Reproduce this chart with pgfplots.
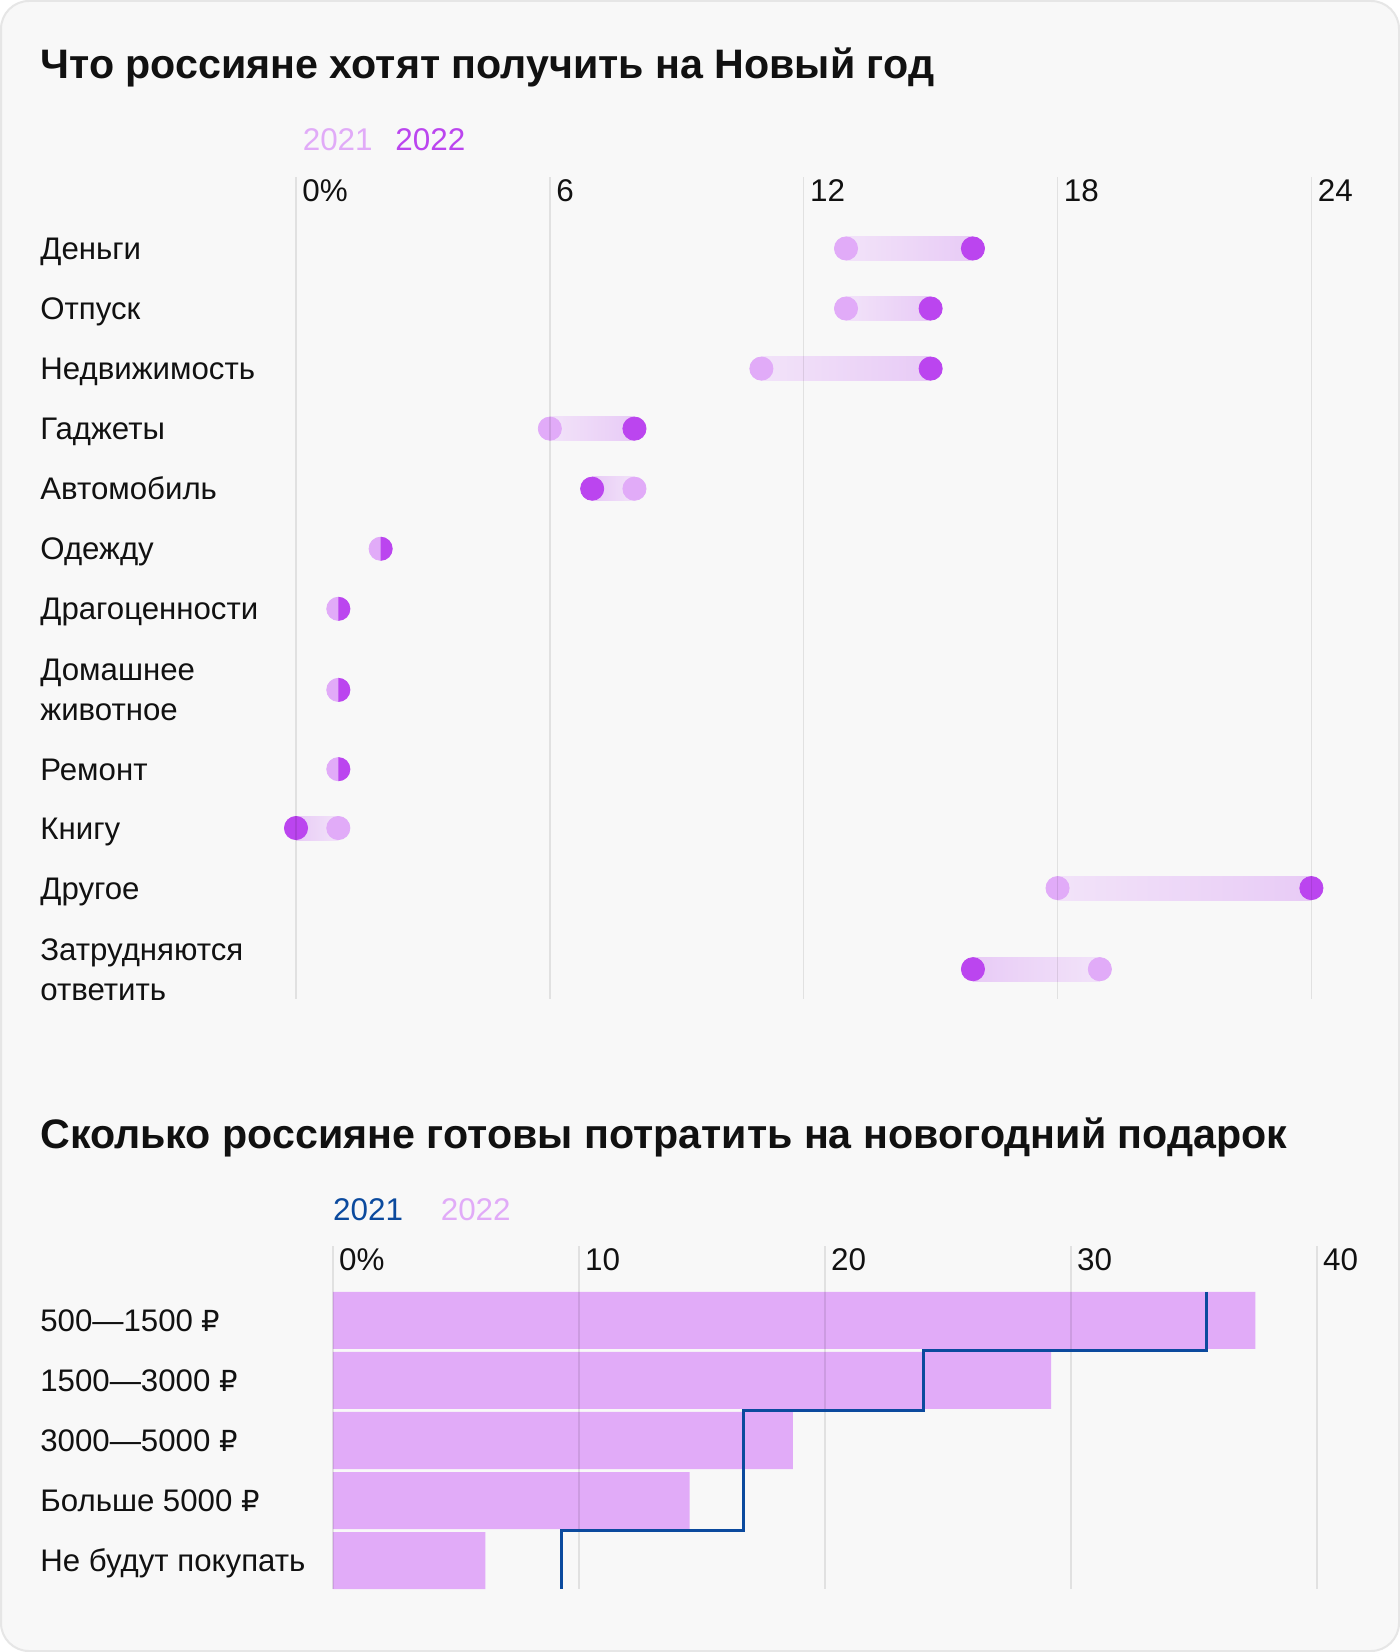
\documentclass[border=0pt]{standalone}
\usepackage{pgfplots}
\pgfplotsset{compat=1.18}
\usepackage{fontspec}
\setmainfont{Liberation Sans}
\newfontfamily\rubfont{DejaVu Sans}
\newcommand{\rub}{{\rubfont\fontsize{14.5}{18}\selectfont ₽}}

\definecolor{bg}{HTML}{F8F8F8}
\definecolor{cardline}{HTML}{E6E6E6}
\definecolor{ca}{HTML}{E1ABF8}
\definecolor{cb}{HTML}{BB45EF}
\definecolor{ga}{HTML}{F2E3F9}
\definecolor{gb}{HTML}{E8CBF6}
\definecolor{navy}{HTML}{0B4A9E}
\definecolor{ink}{HTML}{111111}

% right half of a filled circle
\pgfdeclareplotmark{halfright}{%
  \pgfpathmoveto{\pgfqpoint{0pt}{\pgfplotmarksize}}%
  \pgfpatharc{90}{-90}{\pgfplotmarksize}%
  \pgfpathclose
  \pgfusepathqfill}

\pgfplotsset{
  card/.style={
    scale only axis, anchor=north west, clip=false,
    set layers=axis on top,
    axis line style={draw=none}, major tick length=0,
    y dir=reverse,
    xticklabel pos=upper,
    xticklabel style={anchor=north west, inner sep=0pt, xshift=3pt, yshift=-1pt,
      font=\fontsize{15.7}{18}\selectfont, text=ink},
    yticklabel style={anchor=west, align=left, inner sep=0pt, yshift=-1.5pt,
      font=\fontsize{15.6}{20}\selectfont, text=ink},
    xmajorgrids, grid style={draw=black, draw opacity=0.09, line width=0.75pt},
  },
}

\begin{document}
\begin{tikzpicture}[x=1pt,y=1pt]
\fill[white] (0,0) rectangle (700,-826);
\filldraw[fill=bg, draw=cardline, line width=1pt, rounded corners=14pt] (0.5,-0.5) rectangle (699.5,-825.5);

\node[anchor=base west, inner sep=0, text=ink, font=\bfseries\fontsize{20.6}{26}\selectfont] at (20,-39.5) {Что россияне хотят получить на Новый год};
\node[anchor=base west, inner sep=0, text=ca, font=\fontsize{15.7}{18}\selectfont] at (151.2,-75.3) {2021};
\node[anchor=base west, inner sep=0, text=cb, font=\fontsize{15.7}{18}\selectfont] at (197.5,-75.3) {2022};

\begin{axis}[card,
  at={(148pt,-88.5pt)}, width=507.7pt, height=410.8pt,
  xmin=0, xmax=24, ymin=-1.19, ymax=12.49,
  xtick={0,6,12,18,24}, xticklabels={0\%,6,12,18,24},
  ytick={0,1,2,3,4,5,6,7.35,8.67,9.65,10.65,12},
  yticklabels={\strut Деньги,\strut Отпуск,\strut Недвижимость,\strut Гаджеты,\strut Автомобиль,
    \strut Одежду,\strut Драгоценности,{\strut Домашнее\\животное\strut},\strut Ремонт,\strut Книгу,
    \strut Другое,{\strut Затрудняются\\ответить\strut}},
  yticklabel style={xshift=-128pt},
]
% connecting bars, darker towards 2022
\addplot[draw=none, left color=ga, right color=gb] coordinates {(13,-0.2) (16,-0.2) (16,0.2) (13,0.2)} -- cycle;
\addplot[draw=none, left color=ga, right color=gb] coordinates {(13,0.8) (15,0.8) (15,1.2) (13,1.2)} -- cycle;
\addplot[draw=none, left color=ga, right color=gb] coordinates {(11,1.8) (15,1.8) (15,2.2) (11,2.2)} -- cycle;
\addplot[draw=none, left color=ga, right color=gb] coordinates {(6,2.8) (8,2.8) (8,3.2) (6,3.2)} -- cycle;
\addplot[draw=none, left color=gb, right color=ga] coordinates {(7,3.8) (8,3.8) (8,4.2) (7,4.2)} -- cycle;
\addplot[draw=none, left color=gb, right color=ga] coordinates {(0,9.45) (1,9.45) (1,9.85) (0,9.85)} -- cycle;
\addplot[draw=none, left color=ga, right color=gb] coordinates {(18,10.45) (24,10.45) (24,10.85) (18,10.85)} -- cycle;
\addplot[draw=none, left color=gb, right color=ga] coordinates {(16,11.8) (19,11.8) (19,12.2) (16,12.2)} -- cycle;

% 2021
\addplot[only marks, mark=*, mark size=5.8pt, color=ca, on layer=axis foreground] coordinates {
  (13,0) (13,1) (11,2) (6,3) (8,4) (2,5) (1,6) (1,7.35) (1,8.67) (1,9.65) (18,10.65) (19,12)};
% 2022
\addplot[only marks, mark=*, mark size=5.8pt, color=cb, on layer=axis foreground] coordinates {
  (16,0) (15,1) (15,2) (8,3) (7,4) (0,9.65) (24,10.65) (16,12)};
\addplot[only marks, mark=halfright, mark size=6pt, color=cb, on layer=axis foreground] coordinates {
  (2,5) (1,6) (1,7.35) (1,8.67)};
\end{axis}

\node[anchor=base west, inner sep=0, text=ink, font=\bfseries\fontsize{20.6}{26}\selectfont] at (20,-574) {Сколько россияне готовы потратить на новогодний подарок};
\node[anchor=base west, inner sep=0, text=navy, font=\fontsize{15.7}{18}\selectfont] at (166.4,-610) {2021};
\node[anchor=base west, inner sep=0, text=ca, font=\fontsize{15.7}{18}\selectfont] at (220.2,-610) {2022};

\begin{axis}[card,
  at={(166.4pt,-623.1pt)}, width=492pt, height=171.6pt,
  xmin=0, xmax=40, ymin=-1.236, ymax=4.48,
  xtick={0,10,20,30,40}, xticklabels={0\%,10,20,30,40},
  ytick={0,1,2,3,4},
  yticklabels={\strut 500—1500 \rub,\strut 1500—3000 \rub,\strut 3000—5000 \rub,\strut Больше 5000 \rub,\strut Не будут покупать},
  yticklabel style={xshift=-146.4pt},
]
% 2022
\addplot[xbar, bar width=0.95, fill=ca, draw=none] coordinates {
  (37.5,0) (29.2,1) (18.7,2) (14.5,3) (6.2,4)};
% 2021
\addplot[navy, line width=1.6pt, on layer=axis foreground] coordinates {
  (35.5,-0.475) (35.5,0.5) (24,0.5) (24,1.5) (16.7,1.5) (16.7,2.5) (16.7,3.5) (9.3,3.5) (9.3,4.48)};
\end{axis}
\end{tikzpicture}
\end{document}
